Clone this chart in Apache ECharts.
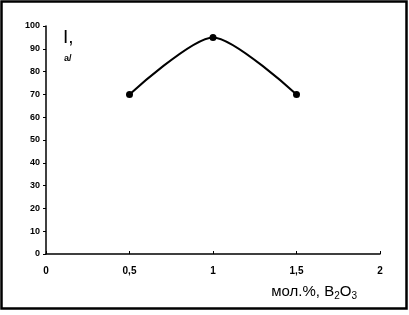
<!DOCTYPE html>
<html><head><meta charset="utf-8">
<script src="https://cdn.jsdelivr.net/npm/echarts@6/dist/echarts.min.js"></script>
<style>html,body{margin:0;padding:0;background:#fff}#c{width:409px;height:315px}</style>
</head><body><div id="c"></div>
<script>
var xValues = [0.5, 1, 1.5];
var yValues = [70, 95, 70];
var xTicks = [0, 0.5, 1, 1.5, 2];
var yTicks = [0, 10, 20, 30, 40, 50, 60, 70, 80, 90, 100];

var chart = echarts.init(document.getElementById('c'), null, {renderer: 'canvas'});
var font = 'Liberation Sans, Arial, sans-serif';
chart.setOption({
  animation: false,
  backgroundColor: '#fff',
  grid: {left: 46, right: 29, top: 26, bottom: 61, containLabel: false},
  xAxis: {
    type: 'value', min: 0, max: 2, interval: 0.5,
    axisLine: {lineStyle: {color: '#000', width: 1.5}},
    axisTick: {show: true, inside: true, length: 3, lineStyle: {color: '#000'}},
    splitLine: {show: false},
    axisLabel: {color: '#000', fontFamily: font, fontSize: 10, fontWeight: 'bold', margin: 12,
      formatter: function (v) { return String(v).replace('.', ','); }},
    name: '{a|мол.%, B}{s|2}{a|O}{s|3}',
    nameLocation: 'end',
    nameGap: 0,
    nameTextStyle: {
      align: 'right', verticalAlign: 'top', padding: [29, 23, 0, 0],
      rich: {
        a: {fontFamily: font, fontSize: 15, color: '#000'},
        s: {fontFamily: font, fontSize: 10, color: '#000', verticalAlign: 'bottom', padding: [8, 0, 0, 0]}
      }
    }
  },
  yAxis: {
    type: 'value', min: 0, max: 100, interval: 10,
    axisLine: {show: true, lineStyle: {color: '#000', width: 1.5}},
    axisTick: {show: true, length: 3, lineStyle: {color: '#000'}},
    splitLine: {show: false},
    axisLabel: {color: '#000', fontFamily: font, fontSize: 9, fontWeight: 'bold', margin: 6}
  },
  graphic: [
    {type: 'rect', shape: {x: 1.5, y: 1.5, width: 405, height: 307}, style: {fill: null, stroke: '#000', lineWidth: 2.5}, silent: true},
    {type: 'text', left: 63, top: 28, style: {text: 'I,', font: '19px Liberation Sans Narrow, Liberation Sans, Arial, sans-serif', fill: '#000'}},
    {type: 'text', left: 64, top: 54, style: {text: 'а/', font: 'bold 9px Liberation Sans, Arial, sans-serif', fill: '#000'}}
  ],
  series: [{
    type: 'line',
    data: xValues.map(function (x, i) { return [x, yValues[i]]; }),
    smooth: 0.25,
    symbol: 'circle', symbolSize: 7,
    lineStyle: {color: '#000', width: 2},
    itemStyle: {color: '#000'}
  }]
});
</script></body></html>
